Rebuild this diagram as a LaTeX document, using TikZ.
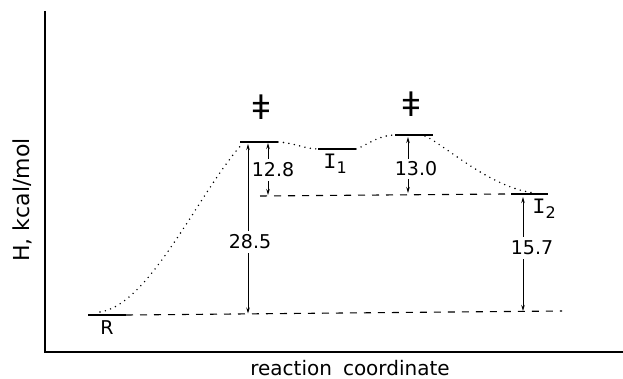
\documentclass[tikz,border=0pt]{standalone}
\usepackage{fontspec}
\setmainfont{DejaVu Sans}
\newfontfamily\serifI{Liberation Mono}
\newfontfamily\tsfont{Liberation Sans}
\usetikzlibrary{arrows.meta}
\newcommand{\sublab}[2]{{\serifI\fontsize{22}{22}\selectfont #1}\raisebox{-5pt}{\fontsize{16}{16}\selectfont #2}}
\begin{document}
\begin{tikzpicture}[x=1pt,y=-1pt,
  level/.style={line width=1.5pt},
  axisline/.style={line width=1.3pt},
  refline/.style={line width=1.1pt, dash pattern=on 7pt off 7pt},
  pathline/.style={line width=1.6pt, line cap=round, dash pattern=on 0pt off 5.5pt},
  dim/.style={line width=0.9pt, -{Stealth[length=6pt,width=3.5pt]}},
  lab/.style={font=\fontsize{19}{19}\selectfont, inner sep=0pt},
  tslab/.style={font=\tsfont\fontsize{34}{34}\selectfont, inner sep=0pt},
  axlab/.style={font=\fontsize{20}{20}\selectfont, inner sep=0pt},
  ]
\useasboundingbox[fill=white] (0,0) rectangle (623,379);
% axes
\coordinate (ytop) at (45,11);
\coordinate (orig) at (45,352);
\coordinate (xend) at (623,352);
\draw[axisline] (ytop) -- (orig) -- (xend);
\node[axlab, rotate=90, font=\fontsize{22}{22}\selectfont] (ylab) at (22,200) {H, kcal/mol};
\node[axlab] (xlab) at (350,368) {reaction\hspace{0.55em}coordinate};
% levels
\coordinate (R1) at (88,315);  \coordinate (R2) at (126,315);
\coordinate (T1a) at (240,142); \coordinate (T1b) at (278,142);
\coordinate (I1a) at (318,149); \coordinate (I1b) at (356,149);
\coordinate (T2a) at (395,135); \coordinate (T2b) at (433,135);
\coordinate (I2a) at (511,194); \coordinate (I2b) at (548,194);
\draw[level] (R1) -- (R2);
\draw[level] (T1a) -- (T1b);
\draw[level] (I1a) -- (I1b);
\draw[level] (T2a) -- (T2b);
\draw[level] (I2a) -- (I2b);
% reference dashed lines
\coordinate (lowend) at (562,311);
\coordinate (upstart) at (260,196);
\coordinate (upend) at (505,194);
\draw[refline] (R2) -- (lowend);
\draw[refline] (upstart) -- (upend);
% reaction path
\coordinate (p0) at (100,312);
\coordinate (p1) at (243,143);
\coordinate (p5) at (535,193);
\draw[pathline] (p0) .. controls (150,305) and (200,190) .. (p1);
\draw[pathline] (T1b) .. controls (295,143) and (305,149) .. (I1a);
\draw[pathline] (I1b) .. controls (366,146) and (378,135) .. (T2a);
\draw[pathline] (425,136) .. controls (445,145) and (490,188) .. (p5);
% labels
\node[lab] (Rl) at (107,328) {R};
\node[lab] (I1l) at (335,164) {\sublab{I}{1}};
\node[lab] (I2l) at (544,209) {\sublab{I}{2}};
\node[tslab] (ts1) at (261,107) {ǂ};
\node[tslab] (ts2) at (411,104) {ǂ};
% 28.5
\coordinate (a1t) at (248,144);
\coordinate (a1b) at (248,313.5);
\node[lab] (l285) at (250,242) {28.5};
\draw[dim] ([yshift=4pt]a1t |- l285.north) -- (a1t);
\draw[dim] ([yshift=-4pt]a1b |- l285.south) -- (a1b);
% 12.8
\coordinate (a2t) at (268,143);
\coordinate (a2b) at (268,195);
\node[lab] (l128) at (273,170) {12.8};
\draw[dim] ([yshift=4pt]a2t |- l128.north) -- (a2t);
\draw[dim] ([yshift=-4pt]a2b |- l128.south) -- (a2b);
% 13.0
\coordinate (a3t) at (408,137);
\coordinate (a3b) at (408,193);
\node[lab] (l130) at (416,169) {13.0};
\draw[dim] ([yshift=3pt]a3t |- l130.north) -- (a3t);
\draw[dim] ([yshift=-3pt]a3b |- l130.south) -- (a3b);
% 15.7
\coordinate (a4t) at (523,197);
\coordinate (a4b) at (523,311);
\node[lab] (l157) at (532,248) {15.7};
\draw[dim] ([yshift=4pt]a4t |- l157.north) -- (a4t);
\draw[dim] ([yshift=-4pt]a4b |- l157.south) -- (a4b);
\end{tikzpicture}
\end{document}
